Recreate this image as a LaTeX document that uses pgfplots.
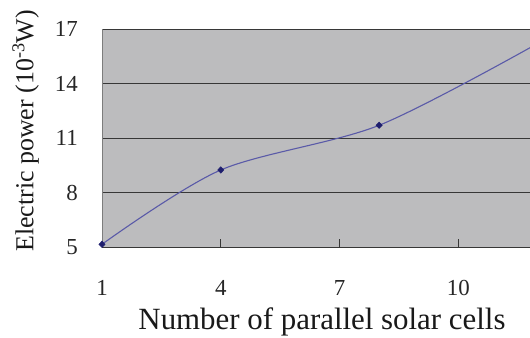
\documentclass[border=0pt]{standalone}
\usepackage{fontspec}
\setmainfont{Liberation Serif}
\usepackage{pgfplots}
\pgfplotsset{compat=1.18}

\definecolor{plotbg}{RGB}{188,188,190}
\definecolor{gridcol}{RGB}{55,55,55}
\definecolor{axiscol}{RGB}{125,125,125}
\definecolor{curvecol}{RGB}{90,90,168}
\definecolor{markcol}{RGB}{30,30,110}

\begin{document}
\begin{tikzpicture}
\useasboundingbox (-102bp,-91bp) rectangle (428bp,247bp);
\begin{axis}[
  at={(0,0)}, anchor=south west,
  scale only axis,
  width=428bp, height=218bp,
  xmin=1, xmax=11.81,
  ymin=5, ymax=17,
  xtick={1,4,7,10},
  ytick={5,8,11,14,17},
  axis x line*=bottom,
  axis y line*=left,
  axis line style={axiscol, line width=0.9bp},
  x axis line style={gridcol},
  axis background/.style={fill=plotbg},
  ymajorgrids,
  grid style={gridcol, line width=0.9bp},
  tick align=inside,
  major tick length=8bp,
  xtick style={gridcol, line width=0.9bp},
  ytick style={draw=none},
  /pgf/number format/assume math mode=true,
  ticklabel style={font=\fontsize{23}{23}\selectfont, text=black!85},
  xticklabel style={anchor=north, inner sep=0pt, yshift=-33bp},
  yticklabel style={anchor=east, inner sep=0pt, xshift=-24bp},
  xlabel={Number of parallel solar cells},
  xlabel style={font=\fontsize{31}{31}\selectfont, text=black!90,
    at={(axis description cs:0.514,0)}, anchor=north, inner sep=0pt, yshift=-61bp},
  ylabel={Electric power (10\textsuperscript{-3}W)},
  ylabel style={font=\fontsize{26}{26}\selectfont, text=black!90,
    at={(axis description cs:0,0.532)}, anchor=south, inner sep=0pt, yshift=63bp},
  clip=true,
]
\addplot[curvecol, line width=1.1bp, smooth, tension=0.5,
  mark=diamond*, mark size=3.2bp,
  mark options={markcol, fill=markcol, line width=0.5bp, xscale=1.3}]
  coordinates {
    (1, 5.15)
    (4, 9.24)
    (8, 11.70)
    (12, 16.20)
  };
\end{axis}
\end{tikzpicture}
\end{document}
